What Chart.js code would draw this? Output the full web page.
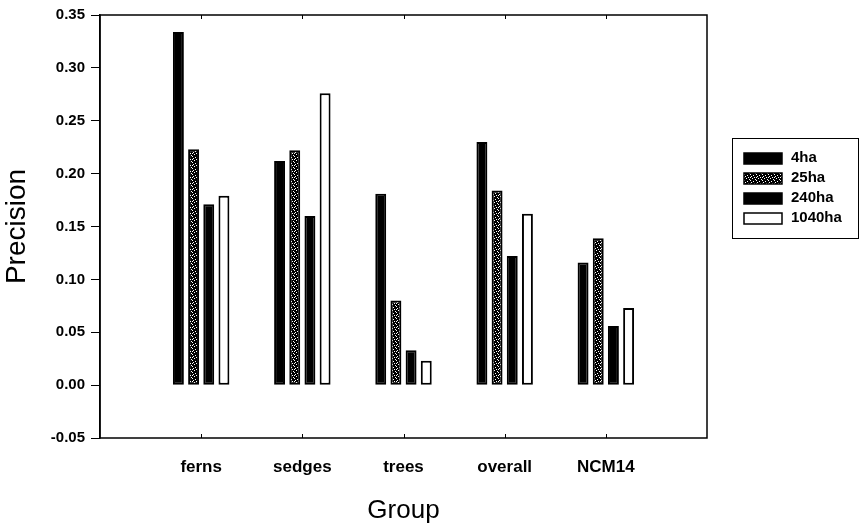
<!DOCTYPE html>
<html>
<head>
<meta charset="utf-8">
<style>
  html, body { margin: 0; padding: 0; background: #fff; }
  #wrap { width: 866px; height: 526px; }
</style>
<script src="https://cdn.jsdelivr.net/npm/chart.js@4/dist/chart.umd.min.js"></script>
</head>
<body>
<div id="wrap"><canvas id="chart" width="866" height="526"></canvas></div>
<script>
// Precision by group for each sampling extent
const categories = ['ferns', 'sedges', 'trees', 'overall', 'NCM14'];
const seriesNames = ['4ha', '25ha', '240ha', '1040ha'];
const precision4ha    = [0.334, 0.212, 0.181, 0.230, 0.116];
const precision25ha   = [0.223, 0.222, 0.080, 0.184, 0.139];
const precision240ha  = [0.171, 0.160, 0.033, 0.122, 0.056];
const precision1040ha = [0.179, 0.276, 0.023, 0.162, 0.073];
const yTicks = [-0.05, 0.00, 0.05, 0.10, 0.15, 0.20, 0.25, 0.30, 0.35];

const FONT = "'Liberation Sans', Arial, sans-serif";

// Speckled fill used for the 25ha bars
function speckle() {
  const c = document.createElement('canvas');
  c.width = 6; c.height = 6;
  const g = c.getContext('2d');
  g.fillStyle = '#000';
  g.fillRect(0, 0, 6, 6);
  g.fillStyle = '#fff';
  const dots = [[0,0],[3,1],[1,2],[4,3],[2,4],[5,5],[0,3]];
  dots.forEach(([x, y]) => g.fillRect(x, y, 1, 1));
  return g.createPattern(c, 'repeat');
}
const hatch = speckle();

// Empty slots on both ends so the groups sit at 1/6 .. 5/6 of the axis
const labels = ['', ...categories, ''];
const pad = arr => [null, ...arr, null];

const fills = ['#000', hatch, '#000', '#fff'];
const values = [precision4ha, precision25ha, precision240ha, precision1040ha];

const datasets = seriesNames.map((name, i) => ({
  label: name,
  data: pad(values[i]),
  backgroundColor: fills[i],
  borderColor: '#000',
  borderWidth: 2,
  borderSkipped: false,
  categoryPercentage: 0.6,
  barPercentage: 0.72
}));

const framePlugin = {
  id: 'frame',
  afterDatasetsDraw(chart) {
    const { ctx, chartArea: a, scales } = chart;
    ctx.save();
    ctx.strokeStyle = '#000';
    ctx.lineWidth = 1.5;
    ctx.strokeRect(a.left, a.top, a.right - a.left, a.bottom - a.top);
    // small inward ticks at each group position
    ctx.lineWidth = 1;
    categories.forEach((c, i) => {
      const x = Math.round(scales.x.getPixelForValue(i + 1)) + 0.5;
      ctx.beginPath();
      ctx.moveTo(x, a.bottom); ctx.lineTo(x, a.bottom - 4);
      ctx.moveTo(x, a.top); ctx.lineTo(x, a.top + 4);
      ctx.stroke();
    });
    ctx.restore();
  },
  afterDraw(chart) {
    // legend box on the right
    const { ctx } = chart;
    ctx.save();
    const bx = 732, by = 138, bw = 126, bh = 100;
    ctx.strokeStyle = '#000';
    ctx.lineWidth = 1;
    ctx.strokeRect(bx + 0.5, by + 0.5, bw, bh);
    ctx.font = 'bold 15px ' + FONT;
    ctx.textBaseline = 'middle';
    chart.data.datasets.forEach((ds, i) => {
      const cy = 158 + i * 20;
      ctx.fillStyle = ds.backgroundColor;
      ctx.fillRect(744, cy - 5, 38, 11);
      ctx.lineWidth = 1.5;
      ctx.strokeStyle = '#000';
      ctx.strokeRect(744, cy - 5, 38, 11);
      ctx.fillStyle = '#000';
      ctx.fillText(ds.label, 791, cy);
    });
    ctx.restore();
  }
};

new Chart(document.getElementById('chart'), {
  type: 'bar',
  data: { labels, datasets },
  options: {
    responsive: false,
    animation: false,
    devicePixelRatio: 1,
    layout: { padding: { left: 0, right: 159, top: 12, bottom: 0 } },
    plugins: { legend: { display: false }, tooltip: { enabled: false } },
    scales: {
      x: {
        offset: false,
        grid: { display: false, offset: false, drawTicks: false },
        border: { display: false },
        ticks: {
          autoSkip: false, maxRotation: 0, padding: 19, color: '#000',
          font: { family: FONT, size: 17, weight: 'bold' }
        },
        title: {
          display: true, text: 'Group', color: '#000',
          font: { family: FONT, size: 26 }, padding: { top: 0, bottom: 0 }
        },
        afterFit(scale) { scale.height = 88; }
      },
      y: {
        min: -0.05, max: 0.35,
        afterBuildTicks(scale) { scale.ticks = yTicks.map(v => ({ value: v })); },
        grid: { drawOnChartArea: false, drawTicks: true, tickLength: 9, color: '#000', lineWidth: 1 },
        border: { display: true, color: '#000', width: 1.5 },
        ticks: {
          padding: 6, color: '#000',
          font: { family: FONT, size: 15, weight: 'bold' },
          callback: v => Number(v).toFixed(2)
        },
        title: {
          display: true, text: 'Precision', color: '#000',
          font: { family: FONT, size: 28 }, padding: { top: 0, bottom: 0 }
        },
        afterFit(scale) { scale.width = 100; }
      }
    }
  },
  plugins: [framePlugin]
});
</script>
</body>
</html>
